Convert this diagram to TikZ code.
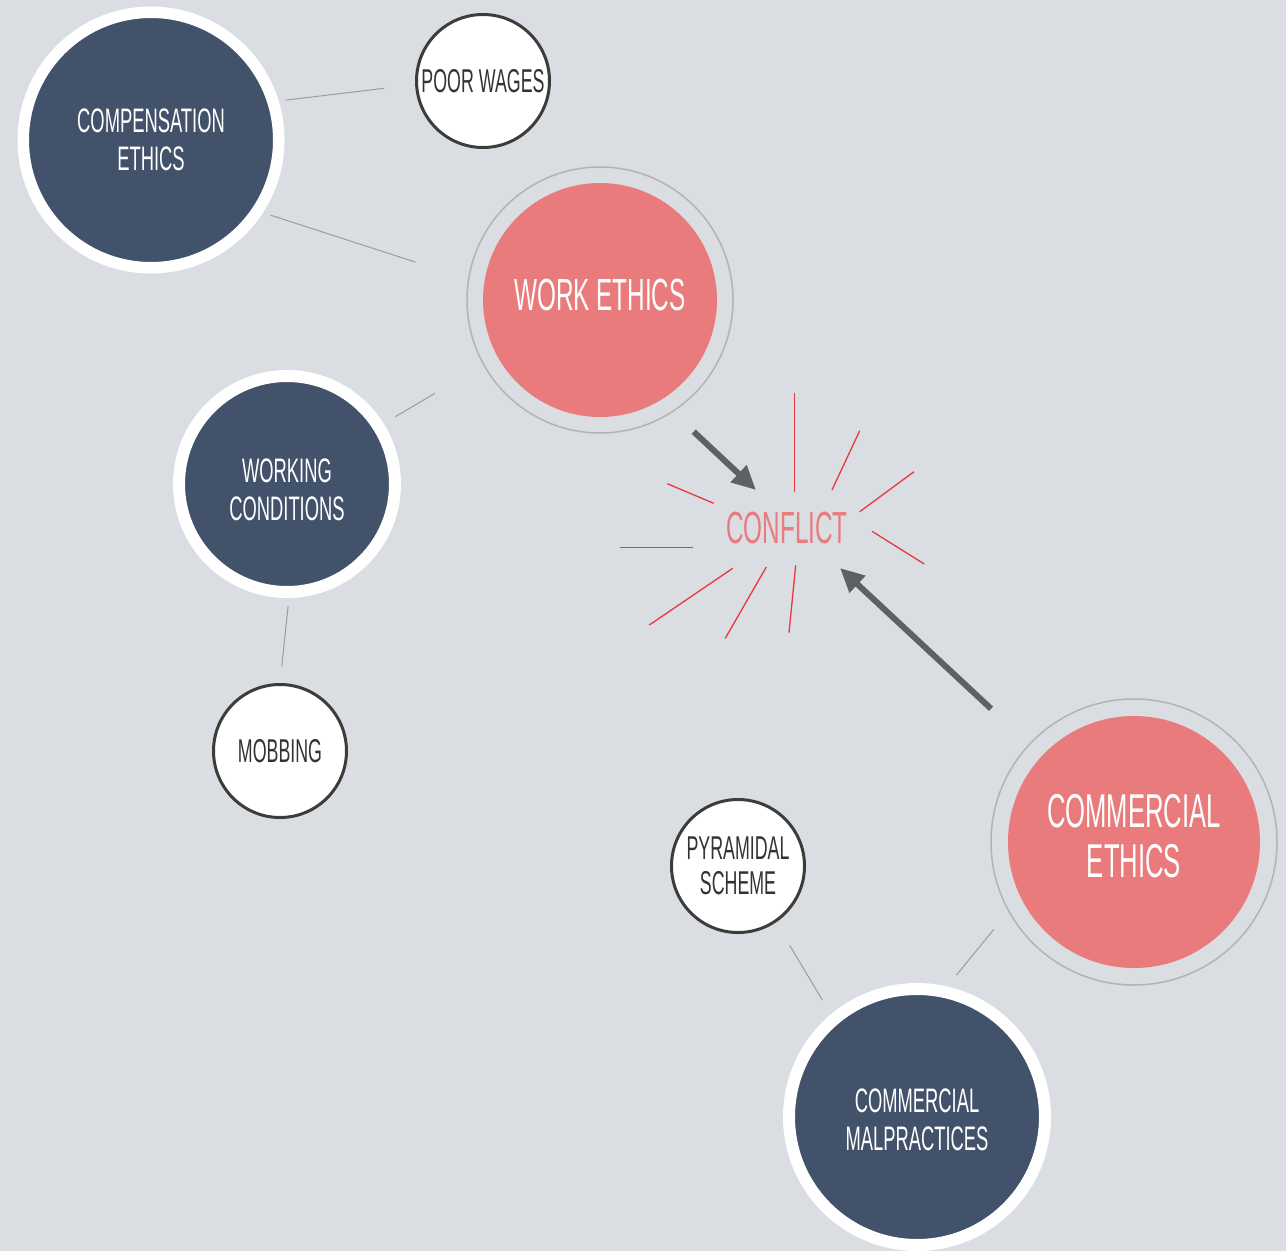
\documentclass[tikz,border=0pt]{standalone}
\usepackage{fontspec}
\setmainfont{Liberation Sans}[FakeStretch=0.54]
\usetikzlibrary{arrows.meta}
\definecolor{bg}{HTML}{DADDE1}
\definecolor{navy}{HTML}{42526A}
\definecolor{salmon}{HTML}{E97B7D}
\definecolor{ringgray}{HTML}{B3B3B5}
\definecolor{linkgray}{HTML}{9A9CA0}
\definecolor{arrowgray}{HTML}{5E6065}
\definecolor{burst}{HTML}{E8383D}
\definecolor{darkborder}{HTML}{3C3C3C}
\begin{document}
\begin{tikzpicture}[x=1pt,y=-1pt,
 bignavy/.style={circle, fill=navy, draw=white, line width=12pt, text=white, align=center, inner sep=0pt, font=\fontsize{34}{38}\selectfont},
 small/.style={circle, fill=white, draw=darkborder, line width=3pt, minimum size=133pt, text=black!80, align=center, inner sep=0pt, font=\fontsize{33}{35}\selectfont},
 ring/.style={circle, draw=ringgray, line width=1.5pt, inner sep=0pt},
 core/.style={circle, fill=salmon, text=white, align=center, inner sep=0pt},
 lbl/.style={align=center, inner sep=0pt},
 link/.style={draw=linkgray, line width=1pt},
 bigarrow/.style={draw=arrowgray, line width=6pt, -{Triangle[length=24pt,width=22pt]}},
 ray/.style={draw=burst, line width=1.3pt}]
\fill[bg] (0,0) rectangle (1286,1251);

% main nodes
\node[bignavy, line width=11.5pt, minimum size=255.5pt] (comp) at (151,140) {COMPENSATION\\ETHICS};
\node[small] (wages) at (483,81) {POOR WAGES};
\node[ring, minimum size=266pt] (workring) at (600,300) {};
\node[core, minimum size=234pt] (work) at (600,300) {};
\node[lbl, text=white, font=\fontsize{45}{50}\selectfont] (worktext) at (600,295) {WORK ETHICS};
\node[bignavy, minimum size=216pt] (cond) at (287,484) {};
\node[lbl, text=white, font=\fontsize{34}{38}\selectfont] (condtext) at (287,490) {WORKING\\CONDITIONS};
\node[small] (mobbing) at (280,751) {MOBBING};
\node[text=salmon, inner sep=0pt, font=\fontsize{45}{50}\selectfont] (conflict) at (787,528) {CONFLICT};
\node[ring, minimum size=286pt] (commring) at (1134,842) {};
\node[core, minimum size=252pt] (comm) at (1134,842) {};
\node[lbl, text=white, font=\fontsize{47.5}{50}\selectfont] (commtext) at (1134,836) {COMMERCIAL\\ETHICS};
\node[small, font=\fontsize{33}{35}\selectfont] (pyr) at (738,866) {PYRAMIDAL\\SCHEME};
\node[bignavy, minimum size=256pt] (mal) at (917,1117) {};
\node[lbl, text=white, font=\fontsize{34}{38}\selectfont] (maltext) at (917,1120) {COMMERCIAL\\MALPRACTICES};

% links
\draw[link, shorten <=7pt, shorten >=31pt] (comp.17) -- (wages.183);
\draw[link, shorten <=8pt, shorten >=55pt] (comp.-33.5) -- (workring.171.1);
\draw[link, shorten <=13.6pt, shorten >=56pt] (cond.32.2) -- (workring.209.1);
\draw[link, shorten <=8pt, shorten >=17pt] (cond.-89.5) -- (mobbing.90);
\draw[link, shorten <=14.7pt, shorten >=22.7pt] (mal.77.2) -- (commring.209.7);
\draw[link, shorten <=26.6pt, shorten >=17pt] (pyr.-56.6) -- (mal.130.4);

% arrows into conflict
\coordinate (tipA) at (756,490);
\coordinate (tipB) at (840,568);
\draw[bigarrow, shorten <=28.5pt] (workring.-57.4) -- (tipA);
\draw[bigarrow, shorten <=51.7pt] (commring.137.7) -- (tipB);

% burst rays
\draw[ray] (794.7,392.7) -- (794.7,492.3);
\draw[ray] (859.7,430.7) -- (832,490);
\draw[ray] (914,471.7) -- (859.7,511.7);
\draw[ray] (872,531.3) -- (924.3,564);
\draw[ray] (795.7,565.3) -- (789,632.7);
\draw[ray] (766.3,567) -- (725.3,638.3);
\draw[ray] (732.7,568.3) -- (649.3,625);
\draw[ray] (692.7,547.7) -- (619.7,547.7);
\draw[ray] (713.7,503.3) -- (667.3,483.7);
\end{tikzpicture}
\end{document}
